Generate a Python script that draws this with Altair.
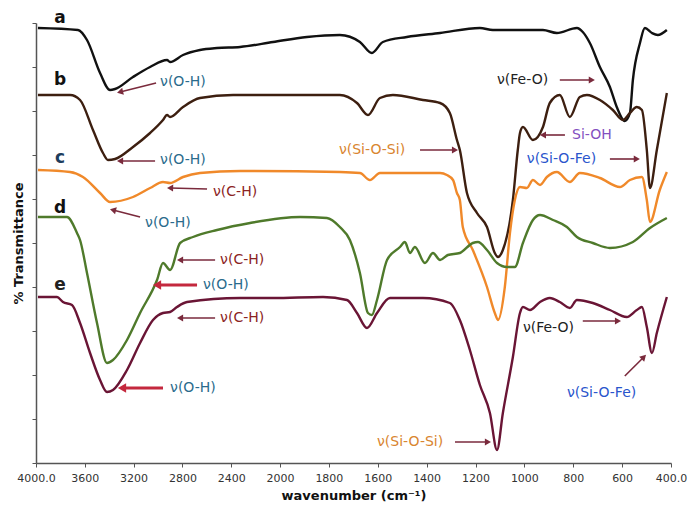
import math
import altair as alt
import pandas as pd

# ---------------- data ----------------
series_names = ["a", "b", "c", "d", "e"]
series_colors = ["#111111", "#3d1f10", "#f0892a", "#4f7a2b", "#6a1535"]

a_wn = [3984,3656,3582,3475,3393,3352,3205,3065,2926,2901,2795,2656,2516,2327,2057,1890,1755,1673,1624,1579,1481,1345,1182,1129,924,867,785,761,732,691,650,622,589,568,556,527,507,478,454,417]
a_t = [435,433,423,390,373,374,386,396,403,401,408,413,415,416,421,426,428,421,410,421,426,430,435,433,433,430,435,431,420,396,376,356,342,350,383,420,435,430,428,433]

b_wn = [3984,3721,3639,3533,3451,3410,3352,3205,3065,2959,2926,2901,2795,2656,2385,1959,1755,1685,1640,1591,1538,1415,1345,1305,1276,1264,1235,1194,1153,1121,1108,1088,1047,1027,1018,1006,965,924,896,855,814,773,744,691,638,597,568,540,519,499,486,458,417]
b_t = [368,368,363,333,310,303,304,316,330,343,348,346,356,365,368,368,368,360,348,365,368,363,360,350,323,313,270,250,236,210,206,213,263,313,330,336,323,336,360,368,346,366,368,363,353,343,350,356,353,313,275,313,370]

c_wn = [3984,3721,3615,3475,3393,3205,3065,2959,2901,2795,2656,2327,1755,1673,1632,1591,1345,1317,1292,1276,1264,1252,1211,1153,1121,1108,1080,1059,1039,1018,990,965,936,908,867,814,773,691,609,568,519,499,486,446,417]
c_t = [293,291,286,270,261,266,275,281,280,286,290,292,291,290,283,290,290,288,283,270,263,236,213,176,150,143,176,230,263,276,275,283,278,286,291,281,290,285,276,283,286,263,241,273,291]

d_wn = [3984,3746,3664,3639,3582,3500,3418,3369,3254,3147,3008,2959,2901,2819,2713,2516,2245,1918,1808,1755,1714,1673,1640,1624,1603,1562,1509,1489,1468,1448,1407,1374,1345,1313,1264,1211,1190,1153,1112,1071,1039,1006,965,936,883,826,785,720,650,556,486,417]
d_t = [246,246,230,223,190,140,100,103,123,150,183,200,193,220,226,233,240,246,245,236,223,190,150,148,163,203,216,221,210,216,200,210,203,208,210,220,221,213,200,196,196,220,243,248,243,236,226,220,215,221,235,245]

e_wn = [3984,3828,3779,3705,3639,3557,3475,3418,3369,3254,3147,3041,2959,2901,2844,2762,2327,2057,1824,1726,1685,1644,1603,1550,1415,1305,1264,1223,1182,1141,1112,1088,1047,1018,1006,977,936,896,855,814,785,720,650,581,540,519,499,478,458,417]
e_t = [166,166,161,158,140,110,83,71,73,93,120,143,150,151,156,161,165,165,166,163,150,135,150,165,165,160,143,113,78,50,13,50,106,150,156,153,161,165,161,155,163,160,153,146,153,156,136,110,130,166]

x_tick_values = [4000,3600,3200,2800,2400,2000,1800,1600,1400,1200,1000,800,600,400]

# curve letters
letter_wn = [3803, 3803, 3803, 3803, 3803]
letter_t = [445, 383, 305, 255, 178]
letter_color = ["#111111", "#111111", "#1d3d5c", "#111111", "#222222"]

# band annotations
OH, CH, SIOSI, FEO, SIOH, SIOFE = "#2a6b8c", "#8b2323", "#d98530", "#222222", "#8350c0", "#2a55cc"
ann_text = ["ν(O-H)", "ν(O-H)", "ν(C-H)", "ν(O-H)", "ν(C-H)", "ν(O-H)", "ν(C-H)", "ν(O-H)",
            "ν(Si-O-Si)", "ν(Fe-O)", "Si-OH", "ν(Si-O-Fe)", "ν(Fe-O)", "ν(Si-O-Fe)", "ν(Si-O-Si)"]
ann_wn = [2983, 2983, 2549, 3106, 2491, 2631, 2491, 2901, 1759, 1112, 805, 990, 1006, 826, 1603]
ann_t = [381, 303, 271, 240, 203, 178, 145, 75, 313, 383, 328, 304, 135, 70, 21]
ann_color = [OH, OH, CH, OH, CH, OH, CH, OH, SIOSI, FEO, SIOH, SIOFE, FEO, SIOFE, SIOSI]

# arrows (tail -> head)
arr_wn1 = [3016, 3024, 2598, 3147, 2532, 2680, 2532, 2959, 1427, 855, 834, 650, 761, 589, 1284]
arr_t1 = [380, 302, 274, 246, 203, 178, 145, 75, 313, 383, 328, 304, 142, 87, 21]
arr_wn2 = [3311, 3311, 2901, 3369, 2819, 3008, 2819, 3295, 1284, 724, 924, 540, 617, 511, 1149]
arr_t2 = [371, 302, 275, 253, 203, 178, 145, 75, 313, 383, 328, 304, 142, 106, 21]
arr_kind = ["thin", "thin", "thin", "thin", "thin", "red", "thin", "red",
            "thin", "thin", "thin", "thin", "thin", "thin", "thin"]

# ---------------- layout ----------------
W, H = 635, 440
X_DOMAIN = [4000, 2000, 400]
X_RANGE = [0, 244, 635]
Y_MAX = 440


def wn_to_px(w):
    if w >= 2000:
        return (4000 - w) / 2000 * 244
    return 244 + (2000 - w) / 1600 * (635 - 244)


def t_to_py(t):
    return H - t / Y_MAX * H


rows = []
for name, wn, tt in zip(series_names, [a_wn, b_wn, c_wn, d_wn, e_wn], [a_t, b_t, c_t, d_t, e_t]):
    for w, t in zip(wn, tt):
        rows.append({"series": name, "wn": w, "t": t})
spectra = pd.DataFrame(rows)

letters = pd.DataFrame({"label": series_names, "wn": letter_wn, "t": letter_t, "color": letter_color})
ann = pd.DataFrame({"text": ann_text, "wn": ann_wn, "t": ann_t, "color": ann_color})

arrows = pd.DataFrame({"wn1": arr_wn1, "t1": arr_t1, "wn2": arr_wn2, "t2": arr_t2, "kind": arr_kind})
arrows["ang"] = [
    math.degrees(math.atan2(t_to_py(r.t2) - t_to_py(r.t1), wn_to_px(r.wn2) - wn_to_px(r.wn1))) % 360
    for r in arrows.itertuples()
]

xscale = alt.Scale(domain=X_DOMAIN, range=X_RANGE, zero=False, nice=False)
yscale = alt.Scale(domain=[0, Y_MAX], zero=False, nice=False)

label_expr = "datum.value == 4000 ? '4000.0' : datum.value == 400 ? '400.0' : format(datum.value, 'd')"

x_axis = alt.Axis(values=x_tick_values, labelExpr=label_expr, grid=False, tickSize=4,
                  labelFont="DejaVu Sans", labelFontSize=11, labelColor="#333333",
                  labelOverlap=False, labelFlush=False, labelPadding=5,
                  domainColor="#555555", tickColor="#555555", domainWidth=1.5,
                  title="wavenumber (cm⁻¹)", titleFont="DejaVu Sans", titleFontSize=13,
                  titleFontWeight="bold", titleColor="#111111", titlePadding=6)
y_axis = alt.Axis(values=list(range(0, 441, 22)), labels=False, grid=False, tickSize=4,
                  domainColor="#555555", tickColor="#555555", domainWidth=1.5,
                  title="% Transmittance", titleFont="DejaVu Sans", titleFontSize=13,
                  titleFontWeight="bold", titleColor="#111111", titlePadding=6)

lines = alt.Chart(spectra).mark_line(strokeWidth=2.4, interpolate="monotone").encode(
    x=alt.X("wn:Q", scale=xscale, axis=x_axis),
    y=alt.Y("t:Q", scale=yscale, axis=y_axis),
    color=alt.Color("series:N", scale=alt.Scale(domain=series_names, range=series_colors), legend=None),
    detail="series:N",
    order=alt.Order("wn:Q", sort="descending"),
)

letter_marks = alt.Chart(letters).mark_text(font="DejaVu Sans", fontSize=17, fontWeight="bold",
                                            align="center", baseline="middle").encode(
    x=alt.X("wn:Q", scale=xscale), y=alt.Y("t:Q", scale=yscale),
    text="label:N", color=alt.Color("color:N", scale=None))

ann_marks = alt.Chart(ann).mark_text(font="DejaVu Sans", fontSize=14, align="left",
                                     baseline="middle").encode(
    x=alt.X("wn:Q", scale=xscale), y=alt.Y("t:Q", scale=yscale),
    text="text:N", color=alt.Color("color:N", scale=None))

thin = arrows[arrows.kind == "thin"]
red = arrows[arrows.kind == "red"]

thin_rules = alt.Chart(thin).mark_rule(strokeWidth=1.6, color="#7a2a3c").encode(
    x=alt.X("wn1:Q", scale=xscale), y=alt.Y("t1:Q", scale=yscale), x2="wn2:Q", y2="t2:Q")
thin_heads = alt.Chart(thin).mark_point(shape="triangle-right", filled=True, size=50,
                                        color="#7a2a3c", opacity=1).encode(
    x=alt.X("wn2:Q", scale=xscale), y=alt.Y("t2:Q", scale=yscale),
    angle=alt.Angle("ang:Q", scale=None))
red_rules = alt.Chart(red).mark_rule(strokeWidth=2.8, color="#c4283e").encode(
    x=alt.X("wn1:Q", scale=xscale), y=alt.Y("t1:Q", scale=yscale), x2="wn2:Q", y2="t2:Q")
red_heads = alt.Chart(red).mark_point(shape="triangle-right", filled=True, size=90,
                                      color="#c4283e", opacity=1).encode(
    x=alt.X("wn2:Q", scale=xscale), y=alt.Y("t2:Q", scale=yscale),
    angle=alt.Angle("ang:Q", scale=None))

chart = alt.layer(lines, thin_rules, thin_heads, red_rules, red_heads, ann_marks, letter_marks).properties(
    width=W, height=H,
    autosize=alt.AutoSizeParams(type="none"),
    padding={"left": 36, "top": 23, "right": 26, "bottom": 52},
    background="white",
).configure_view(stroke=None)

chart.save("out.html", embed_options={"renderer": "svg", "actions": False})
